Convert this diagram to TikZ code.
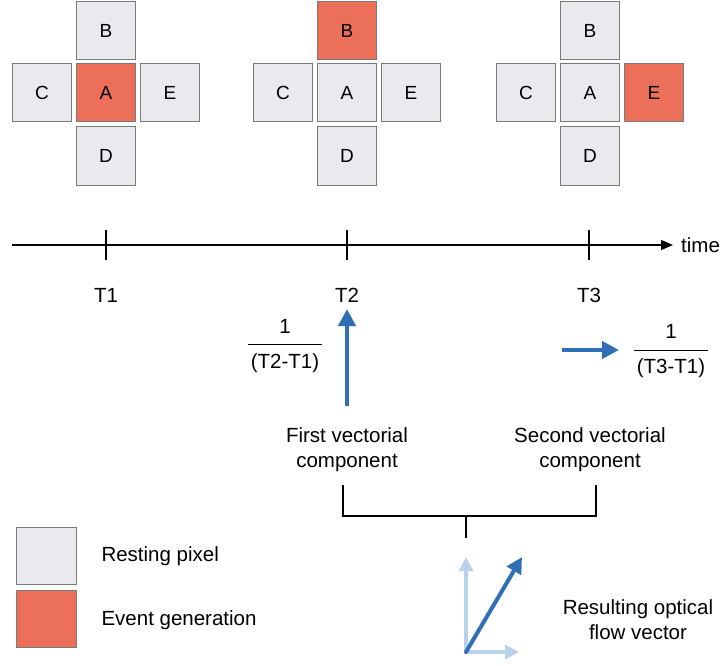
\documentclass[tikz,border=0pt]{standalone}
\usepackage{fontspec}
\setmainfont{Liberation Sans}
\usetikzlibrary{arrows.meta}
\definecolor{restgray}{HTML}{E9EAEE}
\definecolor{boxedge}{HTML}{7A7A7A}
\definecolor{eventred}{HTML}{EC6F59}
\definecolor{flowblue}{HTML}{2F6FB6}
\definecolor{lightblue}{HTML}{B9D1EA}
\begin{document}
\begin{tikzpicture}[x=1pt,y=-1pt,
  pix/.style={draw=boxedge,line width=1pt,minimum width=59pt,minimum height=58pt,inner sep=0pt,fill=restgray,font=\fontsize{19}{22}\selectfont},
  ev/.style={pix,fill=eventred},
  lbl/.style={font=\fontsize{20.5}{25}\selectfont,align=center},
  bluearrow/.style={draw=flowblue,line width=4.5pt,-{Triangle[width=17pt,length=17pt]}},
  lightarrow/.style={draw=lightblue,line width=4pt,-{Triangle[width=14pt,length=14pt]}},
  brk/.style={draw=black,line width=1.2pt}]
\useasboundingbox (0,0) rectangle (725,666);
% group 1
\node[pix] (b1) at (106,31) {B};
\node[pix] (c1) at (42,93) {C};
\node[ev]  (a1) at (106,93) {A};
\node[pix] (e1) at (170,93) {E};
\node[pix] (d1) at (106,156) {D};
% group 2
\node[ev]  (b2) at (347,31) {B};
\node[pix] (c2) at (283,93) {C};
\node[pix] (a2) at (347,93) {A};
\node[pix] (e2) at (411,93) {E};
\node[pix] (d2) at (347,156) {D};
% group 3
\node[pix] (b3) at (590,31) {B};
\node[pix] (c3) at (526,93) {C};
\node[pix] (a3) at (590,93) {A};
\node[ev]  (e3) at (654,93) {E};
\node[pix] (d3) at (590,156) {D};
% timeline
\coordinate (tstart) at (12,245);
\node[lbl,anchor=west,inner sep=0pt] (time) at (681,245) {time};
\draw[line width=1.2pt,-{Triangle[width=10pt,length=12pt]}] (tstart) -- (673,245);
\foreach \x/\n in {106/1,347/2,589/3}{
  \draw[line width=1.2pt] (\x,230) -- (\x,260);
  \node[lbl] (t\n) at (\x,295) {T\n};
}
% first component
\coordinate (up0) at (347,406);
\coordinate (up1) at (347,309);
\draw[bluearrow] (up0) -- (up1);
\node[lbl,inner sep=0pt] (f1n) at (285,326) {1};
\node[lbl,inner sep=0pt] (f1d) at (285,363) {(T2-T1)};
\draw[line width=1pt] (248,344) -- (322,344);
% second component
\coordinate (r0) at (562,350);
\coordinate (r1) at (619,350);
\draw[bluearrow] (r0) -- (r1);
\node[lbl,inner sep=0pt] (f2n) at (671,331) {1};
\node[lbl,inner sep=0pt] (f2d) at (671,368) {(T3-T1)};
\draw[line width=1pt] (634,350) -- (708,350);
% labels
\node[lbl] (first) at (347,450) {First vectorial\\component};
\node[lbl] (second) at (590,450) {Second vectorial\\component};
% bracket
\coordinate (bl) at (343,485);
\coordinate (br) at (596,485);
\coordinate (stem) at (466,538);
\draw[brk] (bl) -- (343,516) -- (596,516) -- (br);
\draw[brk] (466,516) -- (stem);
% resulting vector
\coordinate (o) at (466,652);
\coordinate (vu) at (466,557);
\coordinate (vr) at (519,652);
\coordinate (vd) at (522,557);
\draw[lightarrow] (o) -- (vu);
\draw[lightarrow] (o) -- (vr);
\draw[draw=flowblue,line width=4pt,line cap=round,-{Triangle[width=16pt,length=16pt]}] (o) -- (vd);
\node[lbl] (res) at (638,620) {Resulting optical\\flow vector};
% legend
\node[pix,minimum width=60pt,minimum height=57pt] (legrest) at (46,556) {};
\node[ev,minimum width=60pt,minimum height=57pt] (legev) at (46,619) {};
\node[lbl,anchor=west] (lrest) at (98,556) {Resting pixel};
\node[lbl,anchor=west] (lev) at (98,620) {Event generation};
\end{tikzpicture}
\end{document}
